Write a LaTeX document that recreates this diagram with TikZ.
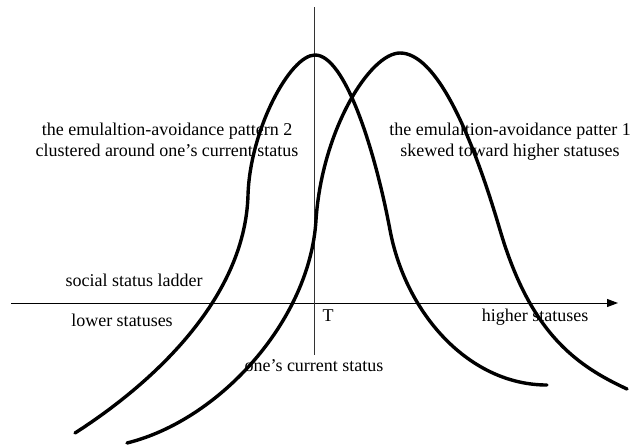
\documentclass[tikz,border=0pt]{standalone}
\usepackage{fontspec}
\setmainfont{Liberation Serif}
\usetikzlibrary{arrows.meta}
\tikzset{
  bellline/.style={line width=3.4pt, line cap=round, line join=round},
  axisline/.style={line width=1pt, black},
  currline/.style={line width=1pt, black!80},
  lbl/.style={inner sep=0pt, font=\fontsize{18}{21}\selectfont},
}

\begin{document}
\begin{tikzpicture}[x=1pt,y=-1pt]
\useasboundingbox (0,0) rectangle (631,445);
\coordinate (ladstart) at (11,303);
\coordinate (ladend) at (618,303);
\coordinate (curtop) at (314,7);
\coordinate (curbot) at (314,355);
\draw[axisline,-{Triangle[length=11pt,width=8pt]}] (ladstart) -- (ladend);
\draw[currline] (curtop) -- (curbot);
\draw[bellline] (75,433) .. controls (150,385) and (245,300) .. (248,195)
  .. controls (250,130) and (290,55) .. (315,55)
  .. controls (345,55) and (375,150) .. (390,230)
  .. controls (406,315) and (470,385) .. (547,385);
\draw[bellline] (127,443) .. controls (220,420) and (310,320) .. (316,220)
  .. controls (322,130) and (370,53) .. (400,53)
  .. controls (435,53) and (470,128) .. (500,230)
  .. controls (530,332) and (575,365) .. (627,389);
\node[lbl, anchor=north, align=center] (pattwo) at (167,123) {the emulaltion-avoidance pattern 2\\clustered around one’s current status};
\node[lbl, anchor=north, align=center] (pattone) at (510,123) {the emulaltion-avoidance patter 1\\skewed toward higher statuses};
\node[lbl, anchor=base] (ladder) at (134,286) {social status ladder};
\node[lbl, anchor=base] (lower) at (122,326) {lower statuses};
\node[lbl, anchor=base] (tmark) at (328,321) {T};
\node[lbl, anchor=base] (higher) at (535,321) {higher statuses};
\node[lbl, anchor=base] (current) at (314,371) {one’s current status};
\end{tikzpicture}
\end{document}
